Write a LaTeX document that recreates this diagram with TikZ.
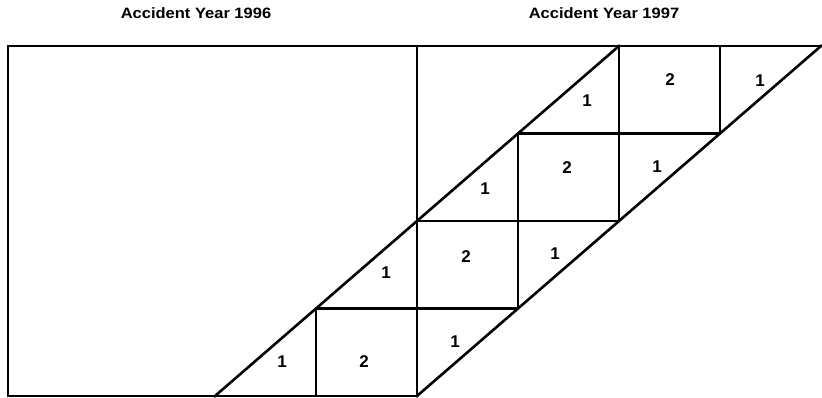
\documentclass[tikz,border=0pt]{standalone}
\usepackage{fontspec}
\setmainfont{Liberation Sans}
\begin{document}
\begin{tikzpicture}[x=1pt,y=-1pt,
  gridline/.style={line width=2.6pt,line join=miter,line cap=rect},
  titlelabel/.style={font=\bfseries\fontsize{15}{17}\selectfont,inner sep=0pt,xscale=1.1},
  celllabel/.style={font=\bfseries\fontsize{17}{19}\selectfont,inner sep=0pt}]
\useasboundingbox (0,0) rectangle (822,398);
% grid points
\foreach \c in {0,...,6}{
  \foreach \r in {0,...,4}{
    \coordinate (p-\c-\r) at ({215+101*\c},{396-87.5*\r});
  }
}
\coordinate (TL) at (8,46);
\coordinate (BL) at (8,396);
% titles
\node[titlelabel] (t1) at (196,13) {Accident Year 1996};
\node[titlelabel] (t2) at (604,13) {Accident Year 1997};
% outline
\draw[gridline] (p-2-0) -- (BL) -- (TL) -- (p-6-4);
% diagonals
\draw[gridline] (p-0-0) -- (p-4-4);
\draw[gridline] (p-2-0) -- (p-6-4);
% verticals
\draw[gridline] (p-2-0) -- (p-2-4);
\draw[gridline] (p-1-0) -- (p-1-1);
\draw[gridline] (p-3-1) -- (p-3-3);
\draw[gridline] (p-4-2) -- (p-4-4);
\draw[gridline] (p-5-3) -- (p-5-4);
% horizontals
\draw[gridline] (p-1-1) -- (p-3-1);
\draw[gridline] (p-2-2) -- (p-4-2);
\draw[gridline] (p-3-3) -- (p-5-3);
% cell labels
\node[celllabel] (a1) at (282,362) {1};
\node[celllabel] (a2) at (364,362) {2};
\node[celllabel] (a3) at (455,342) {1};
\node[celllabel] (b1) at (386,273) {1};
\node[celllabel] (b2) at (466,257) {2};
\node[celllabel] (b3) at (555,254) {1};
\node[celllabel] (c1) at (485,189) {1};
\node[celllabel] (c2) at (567,168) {2};
\node[celllabel] (c3) at (657,167) {1};
\node[celllabel] (d1) at (587,101) {1};
\node[celllabel] (d2) at (670,80) {2};
\node[celllabel] (d3) at (760,81) {1};
\end{tikzpicture}
\end{document}
